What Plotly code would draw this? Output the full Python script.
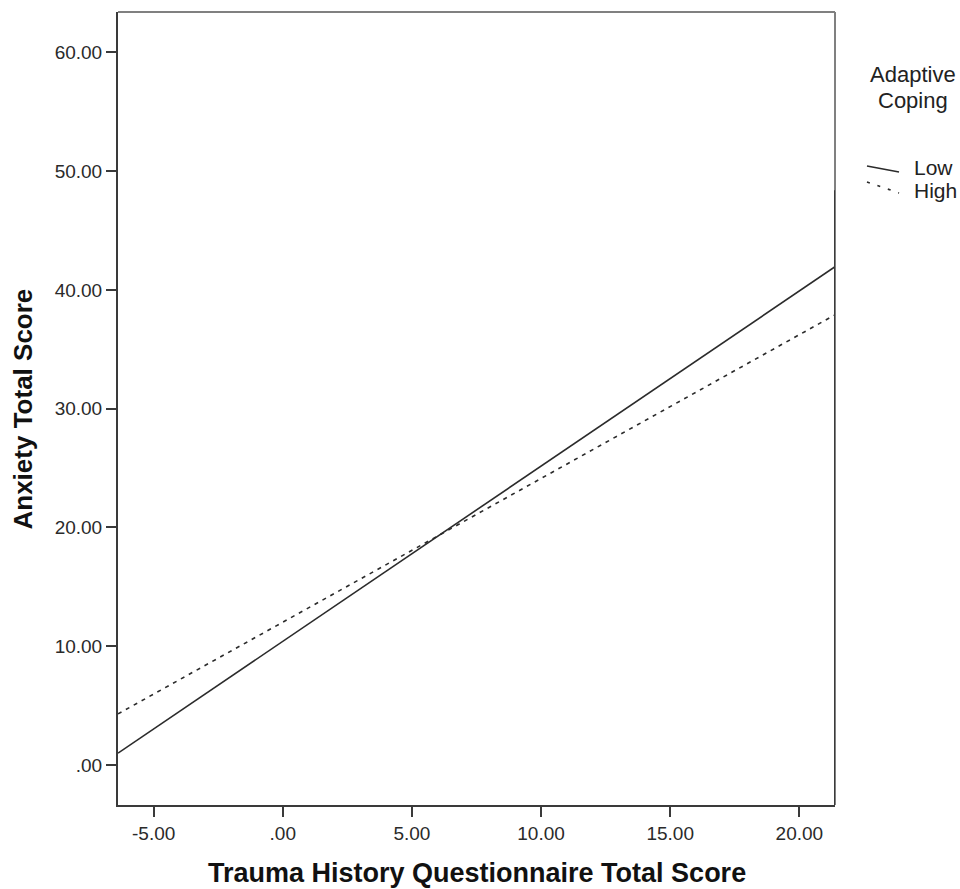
import plotly.graph_objects as go

# Data
trauma_x = [-6.38, 21.38]
low_coping_y = [1.0, 41.95]
high_coping_y = [4.3, 37.9]

x_tick_vals = [-5, 0, 5, 10, 15, 20]
x_tick_text = ["-5.00", ".00", "5.00", "10.00", "15.00", "20.00"]
y_tick_vals = [0, 10, 20, 30, 40, 50, 60]
y_tick_text = [".00", "10.00", "20.00", "30.00", "40.00", "50.00", "60.00"]

x_range = [-6.38, 21.38]
y_range = [-3.37, 63.4]

legend_title_lines = ["Adaptive", "Coping"]
series_names = ["Low", "High"]

LINE_COLOR = "#2b2b2b"
AXIS_COLOR = "#3a3a3a"
FONT = "Liberation Sans, Arial, sans-serif"

fig = go.Figure()
fig.add_trace(go.Scatter(x=trauma_x, y=low_coping_y, mode="lines", name=series_names[0],
                         line=dict(color=LINE_COLOR, width=1.6), showlegend=False))
fig.add_trace(go.Scatter(x=trauma_x, y=high_coping_y, mode="lines", name=series_names[1],
                         line=dict(color=LINE_COLOR, width=1.6, dash="4px,5px"), showlegend=False))

fig.update_layout(
    width=960, height=889,
    margin=dict(l=118, r=125, t=12, b=84),
    paper_bgcolor="white", plot_bgcolor="white",
    font=dict(family=FONT, size=19, color="#222"),
    xaxis=dict(range=x_range, tickvals=x_tick_vals, ticktext=x_tick_text,
               showgrid=False, zeroline=False, showline=True, linecolor=AXIS_COLOR, linewidth=2,
               ticks="outside", ticklen=10, tickwidth=2, tickcolor=AXIS_COLOR,
               tickfont=dict(size=19, color="#2a2a2a")),
    yaxis=dict(range=y_range, tickvals=y_tick_vals, ticktext=y_tick_text,
               showgrid=False, zeroline=False, showline=True, linecolor=AXIS_COLOR, linewidth=2,
               ticks="outside", ticklen=10, tickwidth=2, tickcolor=AXIS_COLOR,
               tickfont=dict(size=19, color="#2a2a2a")),
)

# Axis titles
fig.add_annotation(xref="paper", yref="paper", x=0.5, y=0, yshift=-68,
                   text="<b>Trauma History Questionnaire Total Score</b>", showarrow=False,
                   font=dict(size=27, color="#111", family=FONT), xanchor="center", yanchor="middle")
fig.add_annotation(xref="paper", yref="paper", x=-0.1325, y=0.5, textangle=-90,
                   text="<b>Anxiety Total Score</b>", showarrow=False,
                   font=dict(size=26, color="#111", family=FONT), xanchor="center", yanchor="middle")

# Top and right frame (lighter gray), with darker lower segment on right
fig.add_shape(type="line", xref="paper", yref="paper", x0=0, x1=1, y0=1, y1=1,
              line=dict(color="#808080", width=2))
fig.add_shape(type="line", xref="paper", yref="paper", x0=1, x1=1, y0=0, y1=1,
              line=dict(color="#808080", width=2))
fig.add_shape(type="line", xref="x", yref="y", x0=x_range[1], x1=x_range[1], y0=y_range[0], y1=48.4,
              line=dict(color=AXIS_COLOR, width=2))

# Manual legend
fig.add_annotation(xref="paper", yref="paper", x=1.1088, y=0.9206, text=legend_title_lines[0],
                   showarrow=False, font=dict(size=22, color="#222", family=FONT),
                   xanchor="center", yanchor="middle")
fig.add_annotation(xref="paper", yref="paper", x=1.1088, y=0.889, text=legend_title_lines[1],
                   showarrow=False, font=dict(size=22, color="#222", family=FONT),
                   xanchor="center", yanchor="middle")
fig.add_shape(type="line", xref="paper", yref="paper", x0=1.0446, x1=1.0893, y0=0.8058, y1=0.7982,
              line=dict(color=LINE_COLOR, width=1.6))
fig.add_shape(type="line", xref="paper", yref="paper", x0=1.0446, x1=1.0893, y0=0.7856, y1=0.7718,
              line=dict(color=LINE_COLOR, width=1.6, dash="3px,8px"))
fig.add_annotation(xref="paper", yref="paper", x=1.1074, y=0.8045, text=series_names[0], showarrow=False,
                   font=dict(size=21, color="#222", family=FONT), xanchor="left", yanchor="middle")
fig.add_annotation(xref="paper", yref="paper", x=1.1074, y=0.7743, text=series_names[1], showarrow=False,
                   font=dict(size=21, color="#222", family=FONT), xanchor="left", yanchor="middle")

fig.write_html("out.html",
               config={"displayModeBar": False},
               post_script="document.body.style.margin='0';document.body.style.overflow='hidden';")
